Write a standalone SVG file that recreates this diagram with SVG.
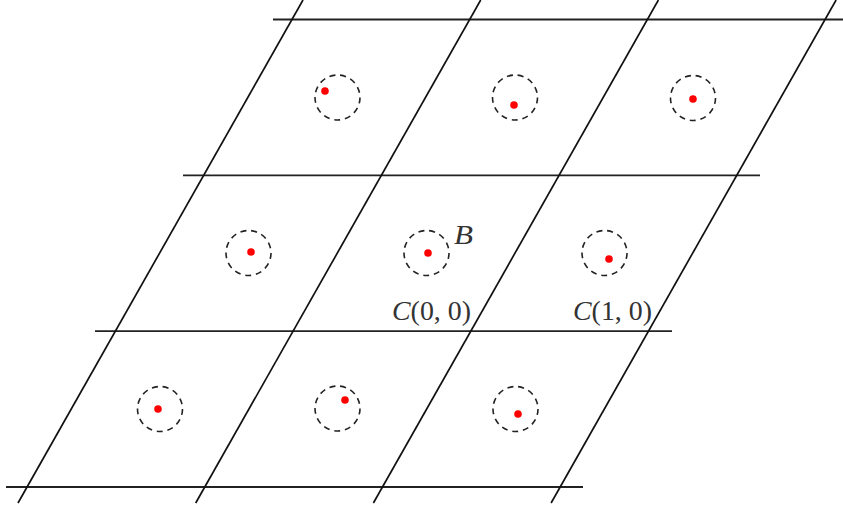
<svg xmlns="http://www.w3.org/2000/svg" width="843" height="507" viewBox="0 0 843 507">
<style>
.ln{stroke:#111;stroke-width:1.7;fill:none}
.hl{stroke:#222;stroke-width:1.8;fill:none}
.ring{stroke:#222;stroke-width:1.6;fill:none;stroke-dasharray:6 4.8}
.dot{fill:#ff0000}
.lbl{font-family:"Liberation Serif","DejaVu Serif",serif;font-size:27px;fill:#333}
.it{font-style:italic}
</style>
<rect width="843" height="507" fill="#fff"/>
<g id="connectors">
<line class="hl" x1="273" y1="19.5" x2="843" y2="19.5"/>
<line class="hl" x1="183" y1="175.3" x2="760" y2="175.3"/>
<line class="hl" x1="95" y1="331.2" x2="672" y2="331.2"/>
<line class="hl" x1="6" y1="487" x2="583" y2="487"/>
<line class="ln" x1="18" y1="503" x2="303" y2="0"/>
<line class="ln" x1="195.7" y1="503" x2="480.7" y2="0"/>
<line class="ln" x1="373.4" y1="503" x2="658.4" y2="0"/>
<line class="ln" x1="551.1" y1="503" x2="836.1" y2="0"/>
</g>
<g id="cell-0-2"><circle class="ring" cx="337.5" cy="97.5" r="22.5"/><circle class="dot" cx="325" cy="91" r="3.8"/></g>
<g id="cell-1-2"><circle class="ring" cx="515" cy="97.5" r="22.5"/><circle class="dot" cx="514" cy="105" r="3.8"/></g>
<g id="cell-2-2"><circle class="ring" cx="693" cy="98" r="22.5"/><circle class="dot" cx="693" cy="99" r="3.8"/></g>
<g id="cell-m1-1"><circle class="ring" cx="248.5" cy="253" r="22.5"/><circle class="dot" cx="251" cy="252" r="3.8"/></g>
<g id="cell-0-1"><circle class="ring" cx="426.5" cy="253" r="22.5"/><circle class="dot" cx="428" cy="253" r="3.8"/></g>
<g id="cell-1-1"><circle class="ring" cx="604.5" cy="253" r="22.5"/><circle class="dot" cx="609" cy="259" r="3.8"/></g>
<g id="cell-m1-0"><circle class="ring" cx="160" cy="409" r="22.5"/><circle class="dot" cx="158" cy="409" r="3.8"/></g>
<g id="cell-0-0"><circle class="ring" cx="337.5" cy="408.5" r="22.5"/><circle class="dot" cx="345" cy="400" r="3.8"/></g>
<g id="cell-1-0"><circle class="ring" cx="515.5" cy="409" r="22.5"/><circle class="dot" cx="518" cy="414" r="3.8"/></g>
<g id="labels">
<text class="lbl it" x="454" y="244" textLength="19" lengthAdjust="spacingAndGlyphs">B</text>
<text class="lbl" x="392" y="320" textLength="79" lengthAdjust="spacingAndGlyphs"><tspan class="it">C</tspan>(0, 0)</text>
<text class="lbl" x="573" y="320" textLength="79" lengthAdjust="spacingAndGlyphs"><tspan class="it">C</tspan>(1, 0)</text>
</g>
</svg>
